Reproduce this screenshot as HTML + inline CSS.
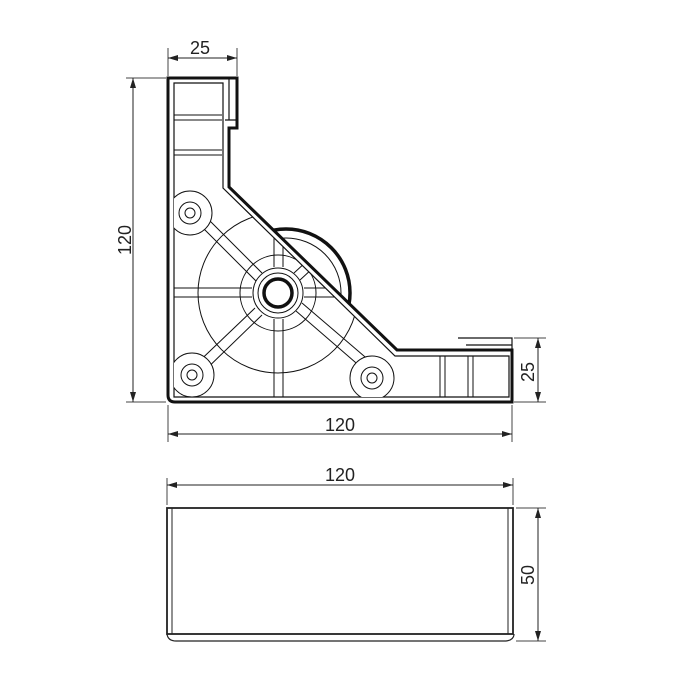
<!DOCTYPE html>
<html><head><style>body{margin:0;background:#fff}svg{display:block}</style></head><body>
<svg width="700" height="700" viewBox="0 0 700 700" xmlns="http://www.w3.org/2000/svg" font-family="Liberation Sans, sans-serif">
<defs>
<marker id="a" viewBox="0 0 10 6" refX="10" refY="3" markerWidth="10" markerHeight="6" orient="auto-start-reverse"><path d="M0,0L10,3L0,6z" fill="#222"/></marker>
<clipPath id="in"><path d="M174,83 L223,83 L223,188 L395,356 L509,356 L509,397 L174,397 Z"/></clipPath>
<clipPath id="out"><path d="M229,187 L397,350 L600,350 L600,0 L229,0 Z"/></clipPath>
</defs>
<g stroke="#444" stroke-width="1" fill="none">
<line x1="168" y1="76" x2="168" y2="48"/><line x1="237" y1="76" x2="237" y2="48"/>
<line x1="166" y1="78" x2="126" y2="78"/><line x1="166" y1="402" x2="126" y2="402"/>
<line x1="168" y1="405" x2="168" y2="442"/><line x1="512" y1="405" x2="512" y2="442"/>
<line x1="514" y1="338" x2="546" y2="338"/><line x1="514" y1="402" x2="546" y2="402"/>
<line x1="167" y1="505" x2="167" y2="478"/><line x1="513" y1="505" x2="513" y2="478"/>
<line x1="516" y1="508" x2="546" y2="508"/><line x1="516" y1="641" x2="546" y2="641"/>
</g>
<g stroke="#222" stroke-width="1" marker-start="url(#a)" marker-end="url(#a)">
<line x1="168" y1="58" x2="237" y2="58"/>
<line x1="133" y1="78" x2="133" y2="402"/>
<line x1="168" y1="434" x2="512" y2="434"/>
<line x1="538" y1="338" x2="538" y2="402"/>
<line x1="167" y1="485" x2="513" y2="485"/>
<line x1="538" y1="508" x2="538" y2="641"/>
</g>
<g font-size="18" fill="#222" text-anchor="middle">
<text x="200" y="54">25</text>
<text x="340" y="431">120</text>
<text x="340" y="481">120</text>
<text transform="translate(131,240) rotate(-90)">120</text>
<text transform="translate(534,372) rotate(-90)">25</text>
<text transform="translate(534,575) rotate(-90)">50</text>
</g>
<g fill="none" stroke="#111">
<!-- outside disk parts -->
<g clip-path="url(#out)">
<circle cx="286" cy="293" r="64" stroke-width="3.5"/>
<circle cx="286" cy="293" r="55" stroke-width="1"/>
</g>
<path d="M168,78 L237,78 L237,128 L229,128 L229,187 L397,350 L512,350 L512,402 L175,402 Q168,402 168,395 Z" stroke-width="3"/>
<path d="M174,83 L223,83 L223,188 L395,356 L509,356 L509,397 L174,397 Z" stroke-width="1.2"/>
<path d="M229,78 L229,120 M225,120 L237,120 L237,128" stroke-width="1.2"/>
<path d="M458,338 L512,338 L512,350 M466,345 L512,345" stroke-width="1.2"/>
<g clip-path="url(#in)" stroke-width="1">
<line x1="174" y1="115" x2="222" y2="115"/><line x1="174" y1="120" x2="222" y2="120"/>
<line x1="174" y1="150" x2="222" y2="150"/><line x1="174" y1="155" x2="222" y2="155"/>
<line x1="440" y1="356" x2="440" y2="397"/><line x1="445" y1="356" x2="445" y2="397"/>
<line x1="468" y1="356" x2="468" y2="397"/><line x1="473" y1="356" x2="473" y2="397"/>
<circle cx="278" cy="293" r="80"/>
<line x1="174" y1="288" x2="252" y2="288"/><line x1="174" y1="297" x2="252" y2="297"/>
<line x1="304" y1="288" x2="360" y2="288"/><line x1="304" y1="297" x2="360" y2="297"/>
<line x1="274" y1="230" x2="274" y2="267"/><line x1="283" y1="230" x2="283" y2="267"/>
<line x1="274" y1="319" x2="274" y2="397"/><line x1="283" y1="319" x2="283" y2="397"/>
<line x1="196" y1="207" x2="262" y2="273"/><line x1="190" y1="215" x2="256" y2="281"/>
<line x1="296" y1="311" x2="370" y2="375"/><line x1="302" y1="303" x2="378" y2="368"/>
<line x1="197" y1="378" x2="262" y2="315"/><line x1="189" y1="371" x2="255" y2="308"/>
<line x1="294" y1="273" x2="320" y2="249"/><line x1="300" y1="280" x2="326" y2="256"/>
<g fill="#fff">
<circle cx="190" cy="213" r="22"/>
<circle cx="192" cy="375" r="22"/>
<circle cx="372" cy="378" r="22"/>
</g>
<circle cx="278" cy="293" r="38"/>
</g>
<g fill="#fff" stroke-width="1">
<circle cx="190" cy="213" r="11"/><circle cx="190" cy="213" r="5"/>
<circle cx="192" cy="375" r="11"/><circle cx="192" cy="375" r="5"/>
<circle cx="372" cy="378" r="11"/><circle cx="372" cy="378" r="5"/>
<circle cx="278" cy="293" r="25"/>
<circle cx="278" cy="293" r="20"/>
<circle cx="278" cy="293" r="14" stroke-width="3.5"/>
</g>
</g>
<g fill="none" stroke="#222">
<rect x="167" y="508" width="346" height="126" stroke-width="1.8"/>
<line x1="172" y1="508" x2="172" y2="634" stroke-width="1"/>
<line x1="508" y1="508" x2="508" y2="634" stroke-width="1"/>
<path d="M167,634 Q168,641 176,641 L506,641 Q514,640 514,634" stroke-width="1.2"/>
</g>
</svg>
</body></html>
